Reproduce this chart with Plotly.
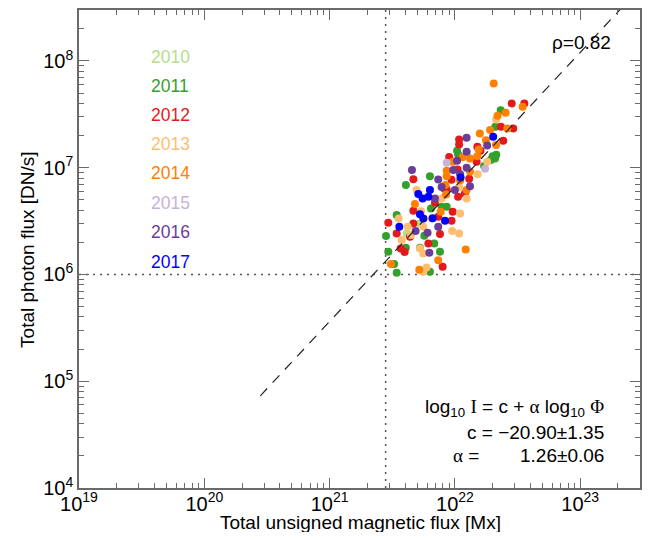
import plotly.graph_objects as go
import numpy as np

years = ["2010", "2011", "2012", "2013", "2014", "2015", "2016", "2017"]
colors = ["#b2df8a", "#33a02c", "#e31a1c", "#fdbf6f", "#ff7f00", "#cab2d6", "#6a3d9a", "#0000ff"]

# Total unsigned magnetic flux [Mx] and total photon flux [DN/s] per year
flux_2010 = [4.12e21, 5.26e21]
phot_2010 = [2.42e6, 3.0e6]

flux_2011 = [2.32e22, 2.10e22, 1.04e22, 1.06e22, 2.0e22, 2.09e22, 1.93e22, 1.71e22, 6.32e21, 4.06e21,
             7.83e21, 6.44e21, 8.6e21, 3.43e21, 5.7e21, 2.82e21, 4.06e21, 6.84e21, 7.6e21, 2.94e21,
             3.27e21, 6.32e21, 3.43e21, 2.14e22, 5.26e21]
phot_2011 = [3.46e7, 2.42e7, 1.44e7, 1.34e7, 1.28e7, 1.22e7, 1.18e7, 1.04e7, 8.3e6, 6.9e6,
             4.3e6, 4.15e6, 4.3e6, 3.6e6, 2.3e6, 2.29e6, 1.78e6, 1.95e6, 1.63e6, 1.63e6,
             1.25e6, 1.06e6, 1.04e6, 1.32e7, 1.78e6]

flux_2012 = [2.84e22, 3.58e22, 2.33e22, 2.92e22, 2.43e22, 1.08e22, 1.08e22, 1.51e22, 1.60e22, 9.0e21,
             1.49e22, 4.66e21, 1.05e22, 1.30e22, 9.4e21, 8.6e21, 1.20e22, 6.93e21, 1.06e22, 8.2e21,
             4.66e21, 9.4e21, 9.6e21, 7.36e21, 2.94e21, 3.43e21, 4.66e21, 7.6e21, 4.38e21, 3.69e21,
             3.97e21, 6.14e21, 7.98e21]
phot_2012 = [4.0e7, 4.0e7, 2.42e7, 2.33e7, 1.79e7, 1.84e7, 1.65e7, 1.57e7, 1.44e7, 1.26e7,
             1.14e7, 7.8e6, 9.6e6, 7.9e6, 7.7e6, 6.25e6, 5.7e6, 4.7e6, 5.35e6, 6.4e6,
             3.95e6, 3.18e6, 3.86e6, 3.47e6, 3.05e6, 2.42e6, 3.0e6, 2.39e6, 2.25e6, 1.75e6,
             1.62e6, 1.95e6, 1.18e6]

flux_2013 = [2.13e22, 1.81e22, 1.52e22, 1.08e22, 1.24e22, 4.94e21, 7.83e21, 5.36e21, 1.10e22, 6.52e21,
             3.56e21, 4.2e21, 4.46e21, 5.6e21, 9.5e21, 1.08e22, 3.76e21, 5.26e21, 5.6e21, 5.94e21,
             5.6e21, 1.10e22]
phot_2013 = [2.83e7, 1.14e7, 8.7e6, 6.6e6, 5.15e6, 6.17e6, 5.15e6, 3.92e6, 3.73e6, 3.35e6,
             3.35e6, 2.8e6, 2.34e6, 2.8e6, 2.56e6, 2.42e6, 2.1e6, 1.75e6, 1.57e6, 1.16e6,
             1.06e6, 7.6e6]

flux_2014 = [2.04e22, 3.47e22, 2.19e22, 2.54e22, 2.62e22, 1.91e22, 1.58e22, 1.77e22, 2.13e22, 1.55e22,
             1.32e22, 1.51e22, 1.15e22, 9.6e21, 1.32e22, 8.6e21, 8.4e21, 1.24e22, 8.5e21, 4.8e21,
             7.7e21, 1.22e22, 3.09e21, 7.36e21, 5.2e21, 8.6e21, 1.10e22]
phot_2014 = [6.15e7, 3.72e7, 3.06e7, 3.27e7, 2.33e7, 2.25e7, 2.09e7, 1.81e7, 1.63e7, 1.48e7,
             1.22e7, 1.28e7, 1.25e7, 1.14e7, 9.2e6, 8.3e6, 6.9e6, 6.17e6, 5.6e6, 4.56e6,
             3.86e6, 1.71e6, 1.25e6, 1.36e6, 1.11e6, 9.35e6, 7.65e6]

flux_2015 = [8.6e21, 1.74e22]
phot_2015 = [1.11e7, 9.8e6]

flux_2016 = [1.24e22, 1.24e22, 1.81e22, 1.04e22, 4.54e21, 9.7e21, 1.10e22, 1.24e22, 7.36e21, 7.83e21,
             1.0e22, 1.32e22, 6.93e21, 7.36e21, 4.86e21, 6.05e21, 6.25e21]
phot_2016 = [1.91e7, 1.41e7, 1.61e7, 1.16e7, 9.5e6, 9.5e6, 8.7e6, 1.0e7, 7.76e6, 6.6e6,
             6.17e6, 6.7e6, 5.15e6, 2.8e6, 2.56e6, 2.46e6, 1.6e6]

flux_2017 = [2.02e22, 1.11e22, 6.32e21, 5.1e21, 5.52e21, 6.14e21, 5.26e21, 5.6e21, 6.64e21, 8.34e21, 3.6e21]
phot_2017 = [1.95e7, 8.1e6, 6.17e6, 5.66e6, 5.15e6, 5.35e6, 3.67e6, 3.35e6, 3.37e6, 3.18e6, 2.8e6]

flux_by_year = [flux_2010, flux_2011, flux_2012, flux_2013, flux_2014, flux_2015, flux_2016, flux_2017]
phot_by_year = [phot_2010, phot_2011, phot_2012, phot_2013, phot_2014, phot_2015, phot_2016, phot_2017]

# thresholds and fit
flux_threshold = 2.8e21
photon_threshold = 1e6
fit_c = -20.90
fit_c_err = 1.35
fit_alpha = 1.26
fit_alpha_err = 0.06
fit_x = [2.8e20, 3.0e23]
rho_text = "ρ=0.82"

x_range = [1e19, 3e23]
y_range = [1e4, 3e8]
x_ticks = [1e19, 1e20, 1e21, 1e22, 1e23]
x_ticktext = ["10<sup>19</sup>", "10<sup>20</sup>", "10<sup>21</sup>", "10<sup>22</sup>", "10<sup>23</sup>"]
y_ticks = [1e4, 1e5, 1e6, 1e7, 1e8]
y_ticktext = ["10<sup>4</sup>", "10<sup>5</sup>", "10<sup>6</sup>", "10<sup>7</sup>", "10<sup>8</sup>"]
mantissas = [2, 3, 4, 5, 6, 7, 8, 9]
x_minor = [m * d for d in x_ticks for m in mantissas if m * d <= x_range[1]]
y_minor = [m * d for d in y_ticks for m in mantissas if m * d <= y_range[1]]

FONT = "Liberation Sans, Arial, Helvetica, sans-serif"
SERIF = "Liberation Serif, Times New Roman, serif"
AX_COLOR = "#6a6a6a"

fig = go.Figure()

# threshold lines
fig.add_trace(go.Scatter(x=[flux_threshold, flux_threshold], y=y_range, mode="lines",
                         line=dict(color="#555555", width=1.5, dash="2px,5px"), showlegend=False, hoverinfo="skip"))
fig.add_trace(go.Scatter(x=x_range, y=[photon_threshold, photon_threshold], mode="lines",
                         line=dict(color="#555555", width=1.5, dash="2px,5px"), showlegend=False, hoverinfo="skip"))

for yr, col, fx, ph in zip(years, colors, flux_by_year, phot_by_year):
    fig.add_trace(go.Scatter(x=fx, y=ph, mode="markers", name=yr,
                             marker=dict(color=col, size=8, line=dict(width=0)), showlegend=False))

fit_y = [10 ** (fit_c + fit_alpha * np.log10(v)) for v in fit_x]
fig.add_trace(go.Scatter(x=fit_x, y=fit_y, mode="lines",
                         line=dict(color="#222222", width=1.2, dash="10px,8px"), showlegend=False, hoverinfo="skip"))

# invisible trace on overlay axes carrying minor ticks
fig.add_trace(go.Scatter(x=[x_range[0]], y=[y_range[0]], xaxis="x2", yaxis="y2", mode="markers",
                         marker=dict(opacity=0), showlegend=False, hoverinfo="skip"))

xr = [np.log10(x_range[0]), np.log10(x_range[1])]
yr_ = [np.log10(y_range[0]), np.log10(y_range[1])]

major = dict(type="log", showline=True, linecolor=AX_COLOR, linewidth=1.5, mirror="ticks",
             ticks="inside", ticklen=10, tickcolor=AX_COLOR, tickwidth=1.2,
             showgrid=False, zeroline=False, automargin=False,
             tickfont=dict(family=FONT, size=20, color="black"))
minor_ax = dict(type="log", showline=False, mirror="ticks", ticks="inside", ticklen=5,
                tickcolor=AX_COLOR, tickwidth=1, showgrid=False, zeroline=False,
                showticklabels=False, automargin=False)

fig.update_layout(
    xaxis=dict(**major, range=xr, tickvals=x_ticks, ticktext=x_ticktext, ticklabelstandoff=-3),
    yaxis=dict(**major, range=yr_, tickvals=y_ticks, ticktext=y_ticktext),
    xaxis2=dict(**minor_ax, range=xr, tickvals=x_minor, overlaying="x", anchor="y2", side="bottom"),
    yaxis2=dict(**minor_ax, range=yr_, tickvals=y_minor, overlaying="y", anchor="x2", side="left"),
)

# axis titles
fig.add_annotation(x=0.501, y=-0.073, xref="paper", yref="paper", text="Total unsigned magnetic flux [Mx]",
                   showarrow=False, xanchor="center", yanchor="middle",
                   font=dict(family=FONT, size=19, color="black"))
fig.add_annotation(x=-0.091, y=0.498, xref="paper", yref="paper", text="Total photon flux [DN/s]",
                   showarrow=False, xanchor="center", yanchor="middle", textangle=-90,
                   font=dict(family=FONT, size=19, color="black"))

# year labels
y_positions = [0.902, 0.841, 0.780, 0.720, 0.659, 0.597, 0.536, 0.473]
for yr, col, yp in zip(years, colors, y_positions):
    fig.add_annotation(x=0.124, y=yp, xref="paper", yref="paper", text=yr, showarrow=False,
                       xanchor="left", yanchor="middle", font=dict(family=FONT, size=17.5, color=col))

fig.add_annotation(x=0.952, y=0.933, xref="paper", yref="paper", text=rho_text, showarrow=False,
                   xanchor="right", yanchor="middle", font=dict(family=FONT, size=19, color="black"))

fig.add_annotation(x=0.939, y=0.167, xref="paper", yref="paper",
                   text=f"log<sub>10</sub> <span style='font-family:{SERIF}'>I</span> = c + <span style='font-family:{SERIF}'>α</span> log<sub>10</sub> <span style='font-family:{SERIF}'>Φ</span>",
                   showarrow=False, xanchor="right", yanchor="middle", font=dict(family=FONT, size=19, color="black"))
fig.add_annotation(x=0.939, y=0.117, xref="paper", yref="paper", text=f"c = −{abs(fit_c):.2f}±{fit_c_err:.2f}",
                   showarrow=False, xanchor="right", yanchor="middle", font=dict(family=FONT, size=19, color="black"))
fig.add_annotation(x=0.663, y=0.067, xref="paper", yref="paper",
                   text=f"<span style='font-family:{SERIF}'>α</span> =",
                   showarrow=False, xanchor="left", yanchor="middle", font=dict(family=FONT, size=19, color="black"))
fig.add_annotation(x=0.939, y=0.067, xref="paper", yref="paper", text=f"{fit_alpha:.2f}±{fit_alpha_err:.2f}",
                   showarrow=False, xanchor="right", yanchor="middle", font=dict(family=FONT, size=19, color="black"))

# page body has an 8px default margin; size the figure so the page is exactly 651x540
fig.update_layout(width=635, height=524, margin=dict(l=71, r=3, t=2, b=44),
                  plot_bgcolor="white", paper_bgcolor="white", showlegend=False)

fig.write_html("out.html")
